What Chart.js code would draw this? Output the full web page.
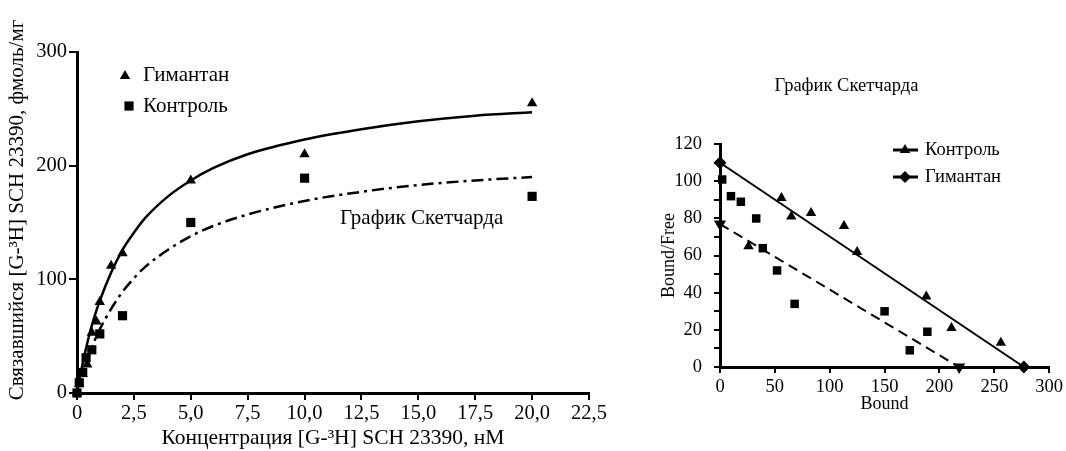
<!DOCTYPE html>
<html>
<head>
<meta charset="utf-8">
<script src="https://cdn.jsdelivr.net/npm/chart.js@4.4.1/dist/chart.umd.min.js"></script>
<style>
  html, body { margin: 0; padding: 0; background: #fff; overflow: hidden; }
  #left { position: absolute; left: 0; top: 0; }
  #right { position: absolute; left: 640px; top: 0; }
</style>
</head>
<body>
<canvas id="left" width="625" height="451"></canvas>
<canvas id="right" width="426" height="451"></canvas>
<script>
// --- saturation binding (left) ---
const gimConc   = [0, 0.1, 0.25, 0.45, 0.65, 0.85, 1.0, 1.5, 2.0, 5.0, 10.0, 20.0];
const gimBound  = [0, 8, 17, 25, 53, 63, 80, 112, 123, 187, 210, 255];
const ctrlConc  = [0, 0.1, 0.25, 0.4, 0.65, 1.0, 2.0, 5.0, 10.0, 20.0];
const ctrlBound = [0, 9, 18, 31, 38, 52, 68, 150, 189, 173];

// fitted curves
const gimFitConc  = [0, 0.25, 0.5, 0.75, 1, 1.5, 2, 2.5, 3, 4, 5, 6, 7.5, 10, 12.5, 15, 17.5, 20];
const gimFit      = [0, 26, 48, 66, 81, 106, 126, 141, 154, 173, 187, 198, 210, 223, 232, 239, 244, 247];
const ctrlFitConc = [0.5, 0.75, 1, 1.5, 2, 2.5, 3, 4, 5, 6, 7.5, 10, 12.5, 15, 17.5, 20];
const ctrlFit     = [32, 45, 56, 74, 89, 101, 111, 126, 138, 147, 157, 169, 177, 183, 187, 190];

// --- Scatchard plot (right) ---
const triBound  = [26, 56, 65, 83, 113, 125, 188, 211, 256];
const triRatio  = [65, 91, 81, 83, 76, 62, 38, 21, 13];
const sqBound   = [2, 10, 19, 33, 39, 52, 68, 150, 173, 189];
const sqRatio   = [101, 92, 89, 80, 64, 52, 34, 30, 9, 19];
const solidBound = [0, 277];
const solidRatio = [110, 0];
const dashBound  = [0, 218];
const dashRatio  = [77, 0];

const SERIF = "'Liberation Serif', 'Times New Roman', serif";
Chart.defaults.font.family = SERIF;
Chart.defaults.color = '#000';
Chart.defaults.animation = false;

function zip(xs, ys) {
  return xs.map((x, i) => ({ x: x, y: ys[i] }));
}

function commaTick(v) {
  return v === 0 ? '0' : v.toFixed(1).replace('.', ',');
}

// legend, note and rotated y title for the left plot
const leftNotes = {
  id: 'leftNotes',
  afterDraw(chart) {
    const ctx = chart.ctx;
    ctx.save();
    ctx.fillStyle = '#000';
    Chart.helpers.drawPoint(ctx, { pointStyle: 'triangle', radius: 6, rotation: 0, borderWidth: 0 }, 125, 76);
    Chart.helpers.drawPoint(ctx, { pointStyle: 'rect', radius: 6.5, rotation: 0, borderWidth: 0 }, 129, 106);
    ctx.fillStyle = '#000';
    ctx.font = '21px ' + SERIF;
    ctx.textBaseline = 'middle';
    ctx.textAlign = 'left';
    ctx.fillText('Гимантан', 143, 75);
    ctx.fillText('Контроль', 143, 106);
    ctx.fillText('График Скетчарда', 340, 218);

    ctx.translate(17, 210);
    ctx.rotate(-Math.PI / 2);
    ctx.textAlign = 'center';
    ctx.font = '21px ' + SERIF;
    ctx.fillText('Связавшийся [G-³H] SCH 23390, фмоль/мг', 0, 0);
    ctx.restore();
  }
};

// legend with line + marker for the Scatchard plot
const rightLegend = {
  id: 'rightLegend',
  afterDraw(chart) {
    const ctx = chart.ctx;
    const items = [
      { text: 'Контроль', style: 'triangle', y: 150 },
      { text: 'Гимантан', style: 'rectRot', y: 177 }
    ];
    ctx.save();
    items.forEach(it => {
      ctx.strokeStyle = '#000';
      ctx.lineWidth = 3;
      ctx.beginPath();
      ctx.moveTo(253, it.y);
      ctx.lineTo(278, it.y);
      ctx.stroke();
      ctx.fillStyle = '#000';
      Chart.helpers.drawPoint(ctx, { pointStyle: it.style, radius: 6, rotation: 0, borderWidth: 0 }, 265, it.y);
      ctx.fillStyle = '#000';
      ctx.font = '18.5px ' + SERIF;
      ctx.textBaseline = 'middle';
      ctx.textAlign = 'left';
      ctx.fillText(it.text, 285, it.y);
    });
    ctx.restore();
  }
};

new Chart(document.getElementById('left'), {
  type: 'scatter',
  data: {
    datasets: [
      {
        label: 'Гимантан',
        data: zip(gimConc, gimBound),
        pointStyle: 'triangle',
        pointRadius: 6,
        backgroundColor: '#000',
        borderColor: '#000',
        borderWidth: 0,
        clip: false
      },
      {
        label: 'Контроль',
        data: zip(ctrlConc, ctrlBound),
        pointStyle: 'rect',
        pointRadius: 6.5,
        backgroundColor: '#000',
        borderColor: '#000',
        borderWidth: 0,
        clip: false
      },
      {
        label: 'fit Гимантан',
        data: zip(gimFitConc, gimFit),
        showLine: true,
        pointRadius: 0,
        borderColor: '#000',
        borderWidth: 2.5,
        cubicInterpolationMode: 'monotone'
      },
      {
        label: 'fit Контроль',
        data: zip(ctrlFitConc, ctrlFit),
        showLine: true,
        pointRadius: 0,
        borderColor: '#000',
        borderWidth: 2.5,
        borderDash: [12, 5, 3, 5],
        cubicInterpolationMode: 'monotone'
      }
    ]
  },
  options: {
    responsive: false,
    devicePixelRatio: 1,
    layout: { padding: { left: 5, top: 52, right: 36, bottom: 0 } },
    plugins: {
      legend: { display: false },
      tooltip: { enabled: false }
    },
    scales: {
      x: {
        type: 'linear',
        min: 0,
        max: 22.5,
        ticks: { stepSize: 2.5, callback: commaTick, font: { size: 20.5 }, padding: 1, maxRotation: 0, autoSkip: false },
        grid: { drawOnChartArea: false, tickLength: 7, color: '#000', lineWidth: 2 },
        border: { color: '#000', width: 3 },
        title: { display: true, text: 'Концентрация [G-³H] SCH 23390, нМ', font: { size: 21.5 }, padding: { top: 0, bottom: 0 } },
        afterFit: s => { s.height = 58; }
      },
      y: {
        min: 0,
        max: 300,
        ticks: { stepSize: 100, font: { size: 20.5 }, padding: 2 },
        grid: { drawOnChartArea: false, tickLength: 8, color: '#000', lineWidth: 2 },
        border: { color: '#000', width: 3 },
        title: { display: false },
        afterFit: s => { s.width = 72; }
      }
    }
  },
  plugins: [leftNotes]
});

new Chart(document.getElementById('right'), {
  type: 'scatter',
  data: {
    datasets: [
      {
        label: 'Контроль',
        data: zip(triBound, triRatio),
        pointStyle: 'triangle',
        pointRadius: 6,
        backgroundColor: '#000',
        borderWidth: 0,
        clip: false
      },
      {
        label: 'squares',
        data: zip(sqBound, sqRatio),
        pointStyle: 'rect',
        pointRadius: 6,
        backgroundColor: '#000',
        borderWidth: 0,
        clip: false
      },
      {
        label: 'Гимантан',
        data: zip(solidBound, solidRatio),
        showLine: true,
        pointStyle: 'rectRot',
        pointRadius: 5,
        backgroundColor: '#000',
        borderColor: '#000',
        borderWidth: 2,
        clip: false
      },
      {
        label: 'dashed',
        data: zip(dashBound, dashRatio),
        showLine: true,
        pointStyle: 'triangle',
        rotation: 180,
        pointRadius: 5,
        backgroundColor: '#000',
        borderColor: '#000',
        borderWidth: 2,
        borderDash: [10, 6],
        clip: false
      }
    ]
  },
  options: {
    responsive: false,
    devicePixelRatio: 1,
    layout: { padding: { left: 0, top: 0, right: 13, bottom: 0 } },
    plugins: {
      legend: { display: false },
      tooltip: { enabled: false },
      title: {
        display: true,
        text: 'График Скетчарда',
        color: '#000',
        font: { size: 18.5, weight: 'normal' },
        padding: { top: 75, bottom: 47 }
      }
    },
    scales: {
      x: {
        type: 'linear',
        min: 0,
        max: 300,
        ticks: { stepSize: 50, font: { size: 18.5 }, padding: 3, maxRotation: 0, autoSkip: false },
        grid: { drawOnChartArea: false, tickLength: 6, color: '#000', lineWidth: 2 },
        border: { color: '#000', width: 3 },
        title: { display: true, text: 'Bound', font: { size: 18 }, padding: { top: 0, bottom: 36 } },
        afterFit: s => { s.height = 84; }
      },
      y: {
        min: 0,
        max: 120,
        ticks: { stepSize: 10, font: { size: 18.5 }, padding: 12, autoSkip: false, callback: v => (v % 20 === 0 ? v : '') },
        grid: { drawOnChartArea: false, tickLength: 6, color: '#000', lineWidth: 2 },
        border: { color: '#000', width: 3 },
        title: { display: true, text: 'Bound/Free', font: { size: 18 }, padding: { top: 18, bottom: 0 } },
        afterFit: s => { s.width = 80; }
      }
    }
  },
  plugins: [rightLegend]
});
</script>
</body>
</html>
